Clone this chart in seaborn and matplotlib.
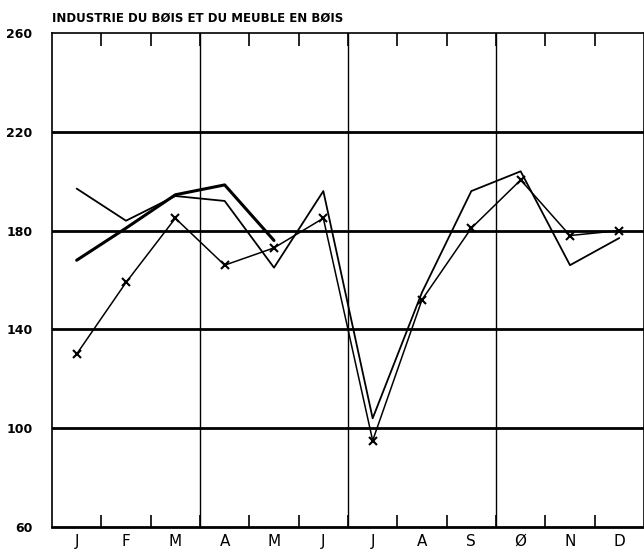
import numpy as np
import pandas as pd
import seaborn as sns
import matplotlib
matplotlib.use("Agg")
import matplotlib.pyplot as plt

# donnees
mois = ["J", "F", "M", "A", "M", "J", "J", "A", "S", "Ø", "N", "D"]
serie_fine = [197, 184, 194, 192, 165, 196, 104, 155, 196, 204, 166, 177]
serie_croix = [130, 159, 185, 166, 173, 185, 95, 152, 181, 200.5, 178, 180]
serie_epaisse = [168, 181, 194.5, 198.5, 176, None, None, None, None, None, None, None]
yticks = [60, 100, 140, 180, 220, 260]
titre = "INDUSTRIE DU BØIS ET DU MEUBLE EN BØIS"

pos = np.arange(12) + 0.5
df = pd.DataFrame({"x": pos, "fine": serie_fine, "croix": serie_croix,
                   "epaisse": pd.array(serie_epaisse, dtype="Float64")})

sns.set_style("white")
plt.rcParams["text.color"] = "black"
plt.rcParams["xtick.color"] = "black"
plt.rcParams["ytick.color"] = "black"
fig = plt.figure(figsize=(6.44, 5.55), dpi=100)
ax = fig.add_axes([52 / 644, 1 - 527 / 555, 592 / 644, 494 / 555])

# grille
for v in [100, 140, 180, 220]:
    ax.axhline(v, color="black", lw=2.0, zorder=1)
for q in [3, 6, 9]:
    ax.axvline(q, color="black", lw=1.0, zorder=1)

sns.lineplot(data=df, x="x", y="fine", ax=ax, color="black", lw=1.3, zorder=3)
sns.lineplot(data=df, x="x", y="croix", ax=ax, color="black", lw=1.1,
             marker="x", markersize=6, markeredgewidth=1.5, markeredgecolor="black", zorder=3)
sns.lineplot(data=df.dropna(subset=["epaisse"]), x="x", y="epaisse", ax=ax,
             color="black", lw=2.2, zorder=3)

ax.set_xlim(0, 12)
ax.set_ylim(60, 260)
ax.set_xlabel("")
ax.set_ylabel("")

for s in ax.spines.values():
    s.set_color("black")
    s.set_linewidth(1.2)
ax.spines["bottom"].set_linewidth(2.0)

# graduations
ax.set_yticks(yticks)
ax.set_yticklabels([str(v) for v in yticks], fontsize=9, fontweight="bold", color="black")
ax.tick_params(axis="y", direction="in", length=6, width=1.2, pad=14)
ax.set_xticks(np.arange(1, 12))
ax.set_xticklabels([])
ax.tick_params(axis="x", direction="in", length=9, width=1.2, top=True, bottom=True)
ax.set_xticks(pos, minor=True)
ax.set_xticklabels(mois, minor=True, fontsize=11, color="black")
ax.tick_params(axis="x", which="minor", length=0, pad=5)

fig.text(52 / 644, 1 - 18 / 555, titre, fontsize=8.5, fontweight="bold",
         ha="left", va="center", color="black")

fig.savefig("out.png", dpi=100)
